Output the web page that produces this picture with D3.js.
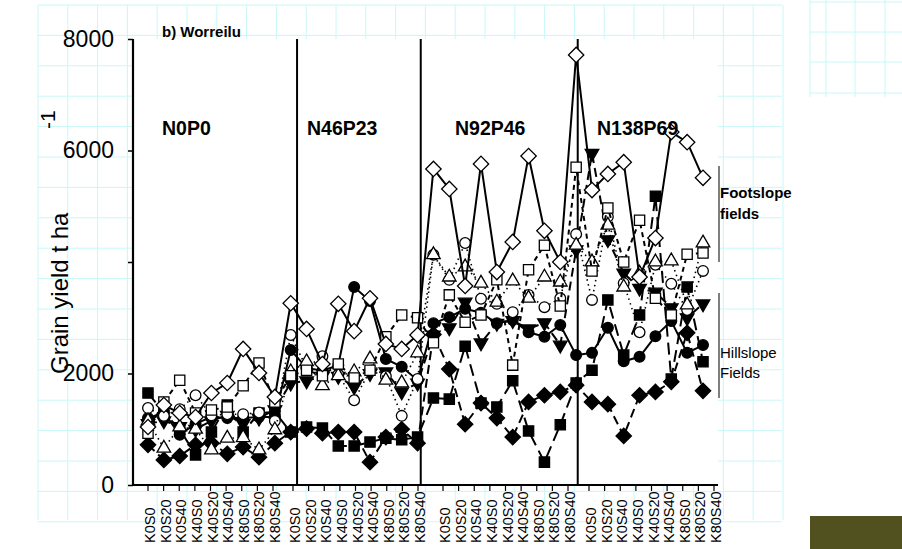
<!DOCTYPE html>
<html><head><meta charset="utf-8">
<script src="https://cdn.jsdelivr.net/npm/d3@7"></script>
<style>body{margin:0;background:#fff}svg{display:block;font-family:"Liberation Sans",Arial,sans-serif}</style>
</head><body><svg id="c" width="902" height="549"></svg>
<script>
// ---------- data ----------
const treatments = ["N0P0", "N46P23", "N92P46", "N138P69"];
const subCategories = ["K0S0","K0S20","K0S40","K40S0","K40S20","K40S40","K80S0","K80S20","K80S40"];
const yTicks = [0, 2000, 4000, 6000, 8000];
// the 4000 label is hidden behind the axis title in the reference
const yTickLabels = ["0", "2000", "", "6000", "8000"];
const panelTitle = "b) Worreilu";

// Footslope fields (open markers)
const footDiamond  = [1040,1435,1290,1220,1650,1830,2440,2010,1580, 3260,2800,2170,3250,2760,3350,2530,2440,2690, 5670,5310,3570,5760,3820,4360,5900,4560,4000, 7715,5290,5580,5790,3730,4430,6330,6150,5510];
const footSquare   = [930,1490,1880,1290,1345,1400,1780,2190,1490, 1960,2060,1960,2170,1920,2060,2660,3050,3000, 2550,3410,2920,3050,3680,2150,3860,4300,3210, 5700,3840,4970,4000,4750,3350,3050,4140,4160];
const footCircle   = [1380,1240,1360,1610,1250,1270,1270,1300,1150, 2690,2100,2310,1980,1520,2050,1950,1240,1900, 4130,3680,4340,3340,3250,3100,3410,3190,3350, 4500,3320,4810,3620,2740,3950,3610,3140,3840];
const footTriangle = [1150,660,1040,1000,630,840,850,630,990, 2030,2210,1780,1960,2030,2260,1880,1830,2370, 4130,3730,3910,3620,3280,3660,3350,3730,3640, 4300,4000,4660,3550,3800,4000,4020,3230,4340];
// Hillslope fields (filled markers)
const hillTriangle = [1100,1150,1050,1000,1150,1250,1100,1200,1350, 1830,1870,1950,1950,1760,2000,2030,1670,1830, 2690,2820,3280,2550,2900,2950,2800,2910,2510, 4220,5950,4400,3800,3530,3460,3180,3000,3250];
const hillCircle   = [1200,1300,900,1100,1220,1200,1200,1220,1220, 2420,2100,2050,2150,3550,3300,2260,2120,1880, 2900,3010,3160,3090,2900,2960,2740,2660,2870, 2330,2370,2820,2220,2300,2670,2940,2370,2510];
const hillSquare   = [1650,1300,1000,540,950,1435,950,1290,1310, 950,1040,1020,700,700,770,840,810,860, 1560,1540,2490,1470,1400,1870,970,410,1080, 1830,2060,3320,2330,3050,5180,1900,3550,2210];
const hillDiamond  = [720,450,520,720,750,560,680,500,750, 950,1010,930,950,950,410,860,1000,750, 2700,2080,1090,1470,1200,860,1490,1610,1670, 1790,1490,1450,880,1610,1670,1850,2730,1690];

// ---------- layout ----------
const svg = d3.select("#c");
const W = 902, H = 549;
const plot = {left: 133, right: 718, top: 39, bottom: 485};

const gridColor = "#c8f8f8";
const bg = svg.append("g");
bg.append("rect").attr("width", W).attr("height", H).attr("fill", "#fff");
const gx = d3.range(38, 784, 29.8), gy = d3.range(5, 522, 30.4);
gx.forEach(v => bg.append("line").attr("x1", v).attr("x2", v).attr("y1", 5).attr("y2", 520).attr("stroke", gridColor).attr("stroke-width", 1));
gy.forEach(v => bg.append("line").attr("x1", 38).attr("x2", 782).attr("y1", v).attr("y2", v).attr("stroke", gridColor).attr("stroke-width", 1));
[810, 826, 855, 885].forEach(v => bg.append("line").attr("x1", v).attr("x2", v).attr("y1", 0).attr("y2", 97).attr("stroke", gridColor));
[2, 32, 62, 93].forEach(v => bg.append("line").attr("x1", 810).attr("x2", 902).attr("y1", v).attr("y2", v).attr("stroke", gridColor));
bg.append("rect").attr("x", 810).attr("y", 516).attr("width", 92).attr("height", 33).attr("fill", "#51511f");

svg.append("rect").attr("x", plot.left).attr("y", plot.top).attr("width", plot.right - plot.left).attr("height", plot.bottom - plot.top).attr("fill", "#fff");

const nCat = treatments.length * subCategories.length;
const x = d3.scalePoint().domain(d3.range(nCat)).range([148, 703]);
const xLin = d3.scaleLinear().domain([0, nCat - 1]).range([148, 703]);
const y = d3.scaleLinear().domain([0, 8000]).range([plot.bottom, plot.top]);

const groupStart = d3.scaleLinear().domain([0, 1, 2, 3]).range([150, 295, 445, 591]);
const inner = d3.scaleLinear().domain([0, subCategories.length - 1]).range([0, 125]);
const labelX = i => groupStart(Math.floor(i / subCategories.length)) + inner(i % subCategories.length);

[9.4, 17.2, 27.1].forEach(p => svg.append("line")
  .attr("x1", xLin(p)).attr("x2", xLin(p)).attr("y1", plot.top).attr("y2", plot.bottom)
  .attr("stroke", "#000").attr("stroke-width", 2));

// y axis
const yAxis = svg.append("g").attr("transform", `translate(${plot.left},0)`)
  .call(d3.axisLeft(y).tickValues(yTicks).tickSize(5).tickPadding(14)
    .tickFormat(d => yTickLabels[yTicks.indexOf(d)]));
yAxis.select(".domain").attr("stroke-width", 2.2).attr("d", `M0,${plot.top}V${plot.bottom}`);
yAxis.selectAll(".tick line").attr("stroke-width", 1.5);
yAxis.selectAll("text").attr("font-size", 23).attr("font-family", "Liberation Sans, Arial, sans-serif").attr("fill", "#000");

// x axis
const xa = svg.append("g");
xa.append("line").attr("x1", plot.left).attr("x2", plot.right).attr("y1", plot.bottom).attr("y2", plot.bottom)
  .attr("stroke", "#000").attr("stroke-width", 2.2);
const cats = d3.range(nCat).map(i => subCategories[i % subCategories.length]);
xa.selectAll(".tk").data(cats).join("line").attr("class", "tk")
  .attr("x1", (d, i) => labelX(i) - 2).attr("x2", (d, i) => labelX(i) - 2)
  .attr("y1", plot.bottom).attr("y2", plot.bottom + 6).attr("stroke", "#000").attr("stroke-width", 1.2);
xa.selectAll(".lb").data(cats).join("text").attr("class", "lb")
  .attr("transform", (d, i) => `translate(${labelX(i)},543) rotate(-90)`)
  .attr("dy", "0.35em").attr("text-anchor", "start").attr("font-size", 14.5).attr("fill", "#000").text(d => d);

// series
const dash = {solid: null, dash: "9,5", long: "12,6", dot: "1.5,3.5", shortdash: "5,4"};
const series = [
  {vals: hillDiamond,  sym: "diamond",  fill: "#000", line: "dash"},
  {vals: hillSquare,   sym: "square",   fill: "#000", line: "long"},
  {vals: hillCircle,   sym: "circle",   fill: "#000", line: "solid"},
  {vals: hillTriangle, sym: "triDown",  fill: "#000", line: "dash"},
  {vals: footCircle,   sym: "circle",   fill: "#fff", line: "dot"},
  {vals: footTriangle, sym: "triUp",    fill: "#fff", line: "dot"},
  {vals: footSquare,   sym: "square",   fill: "#fff", line: "shortdash"},
  {vals: footDiamond,  sym: "diamond",  fill: "#fff", line: "solid"}
];
const symPath = {
  diamond: d3.symbol(d3.symbolSquare, 118)(),
  square: d3.symbol(d3.symbolSquare, 105)(),
  circle: d3.symbol(d3.symbolCircle, 90)(),
  triUp: d3.symbol(d3.symbolTriangle, 80)(),
  triDown: d3.symbol(d3.symbolTriangle, 80)()
};
const symRot = {diamond: 45, square: 0, circle: 0, triUp: 0, triDown: 180};
const line = d3.line().x((d, i) => x(i)).y(d => y(d));
series.forEach(s => {
  const g = svg.append("g");
  g.append("path").attr("d", line(s.vals)).attr("fill", "none").attr("stroke", "#000")
    .attr("stroke-width", s.line === "dot" ? 1.6 : 2).attr("stroke-dasharray", dash[s.line]);
  g.selectAll("path.m").data(s.vals).join("path").attr("class", "m")
    .attr("d", symPath[s.sym])
    .attr("transform", (d, i) => `translate(${x(i)},${y(d)}) rotate(${symRot[s.sym]})`)
    .attr("fill", s.fill).attr("stroke", "#000").attr("stroke-width", 1.3);
});

// texts
svg.append("text").attr("x", 162).attr("y", 37).attr("font-size", 15).attr("font-weight", "bold").text(panelTitle);
const tx = [162, 307, 455, 597];
treatments.forEach((t, i) => svg.append("text").attr("x", tx[i]).attr("y", 135)
  .attr("font-size", 19.5).attr("font-weight", "bold").text(t));

// y title
svg.append("text").attr("transform", "translate(68,374) rotate(-90)").attr("text-anchor", "start")
  .attr("font-size", 24).text("Grain yield t ha");
svg.append("text").attr("transform", "translate(55,129) rotate(-90)").attr("text-anchor", "start")
  .attr("font-size", 21).text("-1");

// brackets
svg.append("line").attr("x1", 719).attr("x2", 719).attr("y1", 166).attr("y2", 262).attr("stroke", "#555").attr("stroke-width", 1.5);
svg.append("line").attr("x1", 719).attr("x2", 719).attr("y1", 293).attr("y2", 398).attr("stroke", "#555").attr("stroke-width", 1.5);
svg.append("text").attr("x", 720).attr("y", 198).attr("font-size", 15).attr("font-weight", "bold").text("Footslope");
svg.append("text").attr("x", 720).attr("y", 219).attr("font-size", 15).attr("font-weight", "bold").text("fields");
svg.append("text").attr("x", 720).attr("y", 358).attr("font-size", 15).text("Hillslope");
svg.append("text").attr("x", 720).attr("y", 378).attr("font-size", 15).text("Fields");
</script></body></html>
